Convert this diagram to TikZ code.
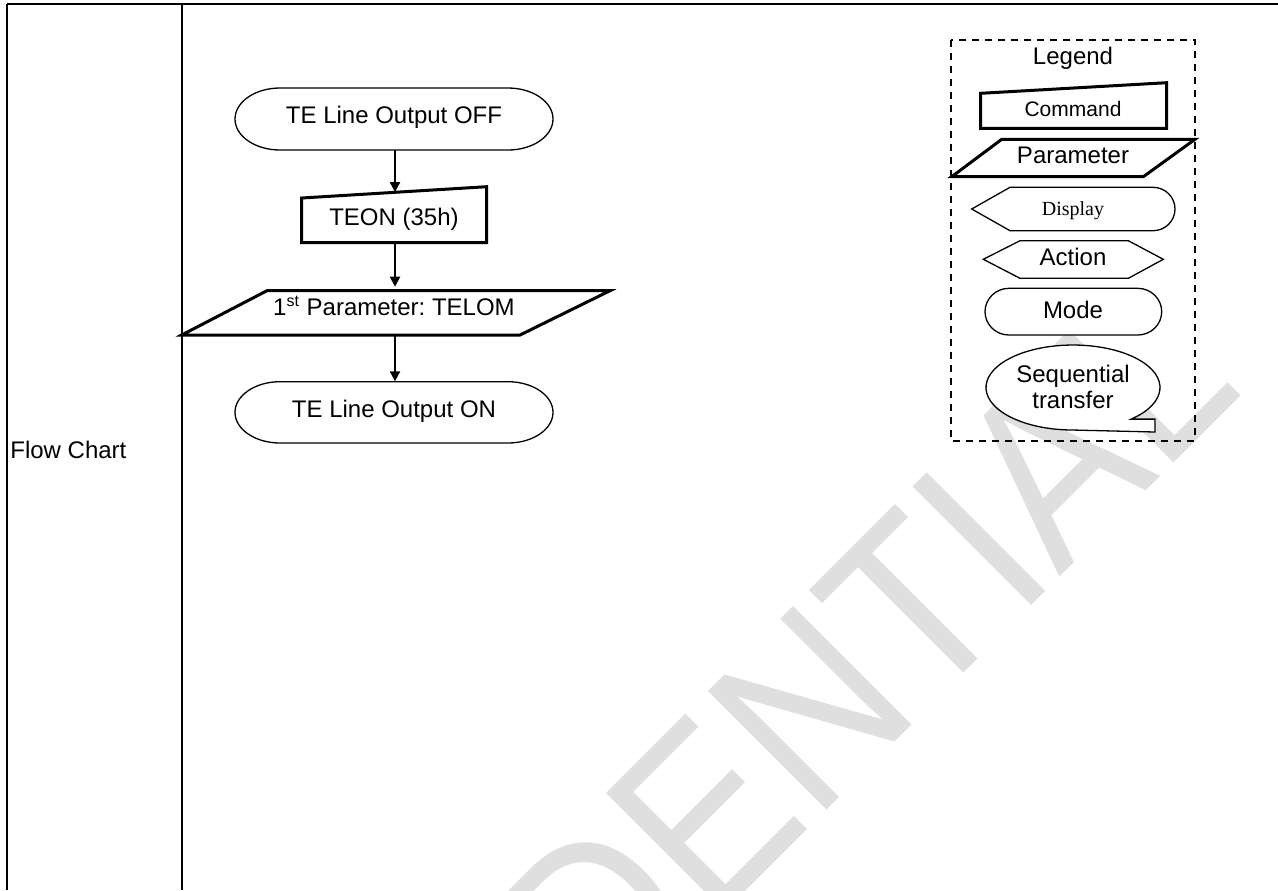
\documentclass[tikz,border=0pt]{standalone}
\usepackage{fontspec}
\setmainfont{Liberation Sans}
\newfontfamily\serifdisp{Liberation Serif}
\usetikzlibrary{arrows.meta}
\definecolor{wm}{RGB}{223,223,223}
\frenchspacing
\tikzset{
  thinln/.style={line width=0.65pt},
  thickln/.style={line width=1.5pt, line join=miter},
  arr/.style={line width=1pt, -{Triangle[width=5pt,length=5pt]}},
  lbl/.style={anchor=base, inner sep=0pt, font=\fontsize{12}{14}\selectfont},
  shapebox/.style={inner sep=0pt, draw=none},
  tbl/.style={line width=1.1pt},
  legbox/.style={dash pattern=on 3.5pt off 3pt, line width=0.9pt}
}
\begin{document}
\begin{tikzpicture}[x=0.5pt,y=0.5pt]
\useasboundingbox (0,0) rectangle (1278,-890);
\fill[white] (0,0) rectangle (1278,-890);
% watermark
\begin{scope}
  \clip (0,0) rectangle (1278,-890);
  \begin{scope}[shift={(129,-1508)}, rotate=45, xscale=1.0765, yscale=1.2185]
    \node[transform shape, anchor=base west, inner sep=0pt, text=wm,
          font=\fontsize{100}{100}\selectfont] (wmark) at (0,0) {CONFIDENTIAL};
  \end{scope}
\end{scope}
% table lines
\draw[tbl] (7,-4) -- (1278,-4);
\draw[tbl] (7,-4) -- (7,-890);
\draw[tbl] (182,-4) -- (182,-890);
\node[anchor=base west, inner sep=0pt, font=\fontsize{12}{14}\selectfont] (fc) at (10,-458.3) {Flow Chart};
% flow chart shapes
\draw[thinln, fill=white] (280,-88) -- (508,-88) arc[start angle=90,end angle=-90,x radius=22.5pt,y radius=15.5pt]
  -- (280,-150) arc[start angle=270,end angle=90,x radius=22.5pt,y radius=15.5pt] -- cycle;
\draw[thickln, fill=white] (301.7,-198) -- (486.7,-186.7) -- (486.7,-242.7) -- (301.7,-242.7) -- cycle;
\draw[thickln, fill=white] (267,-290.7) -- (610,-290.7) -- (520,-335) -- (181.7,-335) -- cycle;
\draw[thinln, fill=white] (280,-381.7) -- (508,-381.7) arc[start angle=90,end angle=-90,x radius=22.5pt,y radius=15.325pt]
  -- (280,-443) arc[start angle=270,end angle=90,x radius=22.5pt,y radius=15.325pt] -- cycle;
\node[shapebox, minimum width=159pt, minimum height=31pt] (off) at (395,-119) {};
\node[shapebox, minimum width=92.5pt, minimum height=25.1pt] (teon) at (395,-217.6) {};
\node[shapebox, minimum width=214pt, minimum height=22.15pt] (param) at (395,-312.85) {};
\node[shapebox, minimum width=159pt, minimum height=30.65pt] (on) at (395,-412.35) {};
\node[lbl] (offt) at (394,-123.3) {TE Line Output OFF};
\node[lbl] (teont) at (394,-225.3) {TEON (35h)};
\node[lbl] (paramt) at (394,-315) {1\textsuperscript{st} Parameter: TELOM};
\node[lbl] (ont) at (394,-417.7) {TE Line Output ON};
\draw[arr] (off.south) -- (teon.north);
\draw[arr, shorten >=1.8pt] (teon.south) -- (param.north);
\draw[arr] (param.south) -- (on.north);
% legend
\draw[legbox] (951,-40) rectangle (1195,-440.7);
\draw[thickln, fill=white] (980.7,-93.3) -- (1166.7,-82.7) -- (1166.7,-128.3) -- (980.7,-128.3) -- cycle;
\draw[thickln, fill=white] (1001.7,-139.3) -- (1195,-139.3) -- (1143.3,-176.7) -- (951.7,-176.7) -- cycle;
\draw[thinln, fill=white] (971.7,-209) -- (1010,-187.3) -- (1153,-187.3)
  arc[start angle=90,end angle=-90,x radius=11pt,y radius=10.85pt] -- (1010,-230.7) -- cycle;
\draw[thinln, fill=white] (983.3,-259.3) -- (1020,-240.7) -- (1128.3,-240.7) -- (1163.3,-259.3)
  -- (1128.3,-278.3) -- (1020,-278.3) -- cycle;
\draw[thinln, fill=white] (1009,-288.3) -- (1137.7,-288.3) arc[start angle=90,end angle=-90,x radius=12pt,y radius=11.675pt]
  -- (1009,-335) arc[start angle=270,end angle=90,x radius=12pt,y radius=11.675pt] -- cycle;
\draw[thinln, fill=white] (1131.2,-419.1) arc[start angle=-48,end angle=270,x radius=43.5pt,y radius=21.25pt]
  -- (1155,-432) -- (1155,-419.1) -- cycle;
\node[lbl] (legt) at (1073,-64.3) {Legend};
\node[lbl, font=\fontsize{10.5}{12}\selectfont] (cmdt) at (1073,-116) {Command};
\node[lbl] (part) at (1073,-163.3) {Parameter};
\node[lbl, font=\serifdisp\fontsize{10}{12}\selectfont] (dispt) at (1073,-215) {Display};
\node[lbl] (actt) at (1073,-265) {Action};
\node[lbl] (modet) at (1073,-318.3) {Mode};
\node[lbl] (seq1) at (1073,-382.7) {Sequential};
\node[lbl] (seq2) at (1073,-408.3) {transfer};
\end{tikzpicture}
\end{document}
